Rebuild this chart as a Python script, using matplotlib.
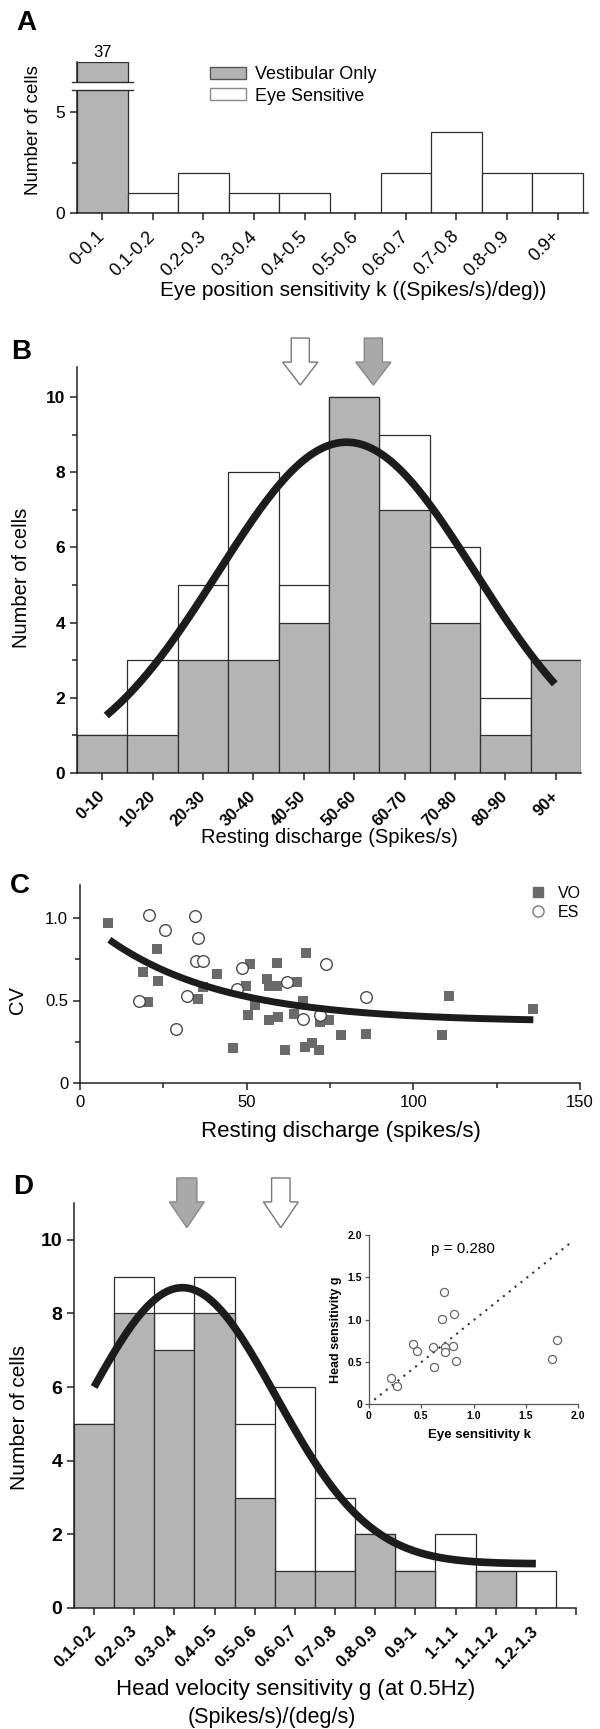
# ======================================
# VESTIBULAR NUCLEI NEURONS - 4 PANEL FIGURE
# ======================================

import numpy as np
import matplotlib

matplotlib.use("Agg")

import matplotlib.pyplot as plt
from matplotlib.patches import Polygon, Rectangle, Patch
from matplotlib.lines import Line2D

plt.rcParams['font.family'] = ['Liberation Sans', 'DejaVu Sans']


# ======================================
# DATA
# ======================================

# A - eye position sensitivity histogram
k_bins = ["0-0.1", "0.1-0.2", "0.2-0.3", "0.3-0.4", "0.4-0.5",
          "0.5-0.6", "0.6-0.7", "0.7-0.8", "0.8-0.9", "0.9+"]
k_vo = [37, 0, 0, 0, 0, 0, 0, 0, 0, 0]
k_es = [0, 1, 2, 1, 1, 0, 2, 4, 2, 2]

# B - resting discharge histogram (gray = VO, outline = VO + ES)
rd_bins = ["0-10", "10-20", "20-30", "30-40", "40-50",
           "50-60", "60-70", "70-80", "80-90", "90+"]
rd_vo = [1, 1, 3, 3, 4, 10, 7, 4, 1, 3]
rd_all = [1, 3, 5, 8, 5, 10, 9, 6, 2, 3]
# gaussian fit (bin index units)
rd_fit_amp, rd_fit_mu, rd_fit_sd = 8.8, 4.85, 2.55
rd_fit_range = (0.08, 8.98)
# mean arrows (bin index units): ES, VO
rd_mean_es, rd_mean_vo = 3.93, 5.38

# C - CV vs resting discharge
vo_rate = [8.3, 23.0, 19.0, 23.3, 20.3, 35.5, 37.0, 41.2, 51.0, 49.8,
           50.3, 52.5, 56.0, 56.7, 59.0, 59.2, 56.8, 59.5, 46.0, 61.5,
           67.8, 65.2, 67.0, 64.2, 72.0, 74.8, 67.5, 69.5, 71.8, 78.3,
           85.7, 108.5, 110.8, 136.0]
vo_cv = [0.97, 0.81, 0.67, 0.62, 0.49, 0.51, 0.58, 0.66, 0.72, 0.59,
         0.41, 0.47, 0.63, 0.59, 0.73, 0.59, 0.38, 0.40, 0.21, 0.20,
         0.79, 0.61, 0.50, 0.42, 0.37, 0.38, 0.22, 0.24, 0.20, 0.29,
         0.30, 0.29, 0.53, 0.45]
es_rate = [20.8, 34.5, 25.5, 35.5, 34.8, 37.0, 48.5, 47.0, 32.2, 17.8,
           28.8, 62.0, 73.7, 85.7, 67.0, 72.0]
es_cv = [1.02, 1.01, 0.93, 0.88, 0.74, 0.74, 0.70, 0.57, 0.53, 0.50,
         0.33, 0.61, 0.72, 0.52, 0.39, 0.41]
# exponential decay fit
cv_fit_base, cv_fit_amp, cv_fit_tau = 0.37, 0.64, 35.0
cv_fit_range = (8.8, 136.0)

# D - head velocity sensitivity histogram
g_bins = ["0.1-0.2", "0.2-0.3", "0.3-0.4", "0.4-0.5", "0.5-0.6", "0.6-0.7",
          "0.7-0.8", "0.8-0.9", "0.9-1", "1-1.1", "1.1-1.2", "1.2-1.3"]
g_vo = [5, 8, 7, 8, 3, 1, 1, 2, 1, 0, 1, 0]
g_all = [5, 9, 8, 9, 5, 6, 3, 2, 1, 2, 1, 1]
g_fit_base, g_fit_amp, g_fit_mu, g_fit_sd = 1.2, 7.5, 2.2, 2.33
g_fit_range = (0.0, 11.0)
g_mean_vo, g_mean_es = 2.31, 4.65

# D inset - head vs eye sensitivity of ES cells
ins_k = [0.72, 0.70, 0.81, 0.42, 0.46, 0.61, 0.73, 0.80, 0.73, 0.83,
         0.62, 0.21, 0.27, 1.75, 1.80]
ins_g = [1.33, 1.01, 1.06, 0.71, 0.63, 0.68, 0.68, 0.69, 0.61, 0.51,
         0.44, 0.31, 0.21, 0.53, 0.76]
ins_line_k = [0.05, 1.92]
ins_line_g = [0.05, 1.90]
ins_p = "p = 0.280"


# ======================================
# STYLE
# ======================================

W, H = 600, 1729
GRAY = "#b4b4b4"
EDGE = "#2e2e2e"
CURVE = "#1c1c1c"


def fx(px):
    return px / W


def fy(py):
    return 1 - py / H


def add_axes(left, right, top, bottom):
    return fig.add_axes([fx(left), fy(bottom), (right - left) / W, (bottom - top) / H])


def clean(ax):
    ax.spines['top'].set_visible(False)
    ax.spines['right'].set_visible(False)
    for s in ('left', 'bottom'):
        ax.spines[s].set_linewidth(1.1)
        ax.spines[s].set_color("#222222")
    ax.tick_params(direction='out', length=5, width=1.1, color="#222222")
    ax.tick_params(which='minor', direction='out', length=3.5, width=1.1, color="#222222")


def down_arrow(ax, x, y_top, y_head, y_tip, w_shaft, w_head, fc, ec):
    pts = [(x - w_shaft / 2, y_top), (x + w_shaft / 2, y_top),
           (x + w_shaft / 2, y_head), (x + w_head / 2, y_head),
           (x, y_tip), (x - w_head / 2, y_head), (x - w_shaft / 2, y_head)]
    ax.add_patch(Polygon(pts, closed=True, facecolor=fc, edgecolor=ec,
                         linewidth=1.0, clip_on=False, zorder=6))


fig = plt.figure(figsize=(W / 100, H / 100), dpi=100)


# ======================================
# PANEL A
# ======================================

axA = add_axes(77, 588, 62, 213)
clean(axA)
break_top, gap_lo, gap_hi = 7.5, 6.12, 6.5
xa = np.arange(len(k_bins))
axA.bar(xa, np.minimum(k_vo, break_top), width=1.0, color=GRAY, edgecolor=EDGE, linewidth=0.9)
axA.bar(xa, k_es, width=1.0, color="white", edgecolor=EDGE, linewidth=0.9)
# break in the 37 bar
axA.add_patch(Rectangle((-0.7, gap_lo), 1.4, gap_hi - gap_lo, facecolor="white",
                        edgecolor="none", clip_on=False, zorder=5))
for yb in (gap_lo, gap_hi):
    axA.plot([-0.6, 0.6], [yb, yb], color=EDGE, lw=1.0, clip_on=False, zorder=6)
axA.text(0, break_top + 0.1, str(k_vo[0]), ha="center", va="bottom", fontsize=12)
axA.set_xlim(-0.5, 9.6)
axA.set_ylim(0, break_top)
axA.set_yticks([0, 5])
axA.set_yticks([2.5], minor=True)
axA.set_xticks(xa)
axA.set_xticklabels(k_bins, rotation=45, ha="right", va="center",
                    rotation_mode="anchor", fontsize=13)
axA.tick_params(axis='x', pad=10)
axA.tick_params(axis='y', labelsize=12.5)
axA.set_ylabel("Number of cells", fontsize=13.5)
axA.yaxis.set_label_coords(-0.068, 0.55)
axA.set_xlabel("Eye position sensitivity k ((Spikes/s)/deg))", fontsize=15)
axA.xaxis.set_label_coords(0.54, -0.45)
axA.legend(handles=[Patch(facecolor=GRAY, edgecolor="#555555", label="Vestibular Only"),
                    Patch(facecolor="white", edgecolor="#888888", label="Eye Sensitive")],
           loc="upper left", bbox_to_anchor=(fx(210), fy(66)), bbox_transform=fig.transFigure,
           frameon=False, fontsize=13, handlelength=2.0, handleheight=0.67,
           handletextpad=0.5, labelspacing=0.25, borderpad=0, borderaxespad=0)


# ======================================
# PANEL B
# ======================================

axB = add_axes(77, 581, 367, 773)
clean(axB)
xb = np.arange(len(rd_bins))
axB.bar(xb, rd_all, width=1.0, color="white", edgecolor=EDGE, linewidth=0.9)
axB.bar(xb, rd_vo, width=1.0, color=GRAY, edgecolor=EDGE, linewidth=0.9)
xs = np.linspace(rd_fit_range[0], rd_fit_range[1], 200)
axB.plot(xs, rd_fit_amp * np.exp(-(xs - rd_fit_mu) ** 2 / (2 * rd_fit_sd ** 2)),
         color=CURVE, lw=5.5, solid_capstyle="butt", zorder=4)
down_arrow(axB, rd_mean_es, 11.57, 10.93, 10.32, 0.36, 0.70, "white", "#777777")
down_arrow(axB, rd_mean_vo, 11.57, 10.93, 10.32, 0.36, 0.70, "#a9a9a9", "#888888")
axB.set_xlim(-0.5, 9.5)
axB.set_ylim(0, 10.8)
axB.set_yticks(np.arange(0, 11, 2))
axB.set_yticks(np.arange(1, 11, 2), minor=True)
axB.set_xticks(xb)
axB.set_xticklabels(rd_bins, rotation=45, ha="right", va="center",
                    rotation_mode="anchor", fontsize=12, fontweight="bold")
axB.tick_params(axis='x', pad=10)
for lab in axB.get_yticklabels():
    lab.set_fontweight("bold")
    lab.set_fontsize(12.5)
axB.set_ylabel("Number of cells", fontsize=14.5)
axB.yaxis.set_label_coords(-0.091, 0.48)
axB.set_xlabel("Resting discharge (Spikes/s)", fontsize=14.5)
axB.xaxis.set_label_coords(0.5, -0.135)


# ======================================
# PANEL C
# ======================================

axC = add_axes(80, 580, 885, 1083)
clean(axC)
axC.scatter(vo_rate, vo_cv, marker="s", s=45, color="#6a6a6a", linewidths=0, zorder=3, label="VO")
axC.scatter(es_rate, es_cv, marker="o", s=70, facecolor="white", edgecolor="#4a4a4a",
            linewidths=1.0, zorder=3, label="ES")
xc = np.linspace(cv_fit_range[0], cv_fit_range[1], 200)
axC.plot(xc, cv_fit_base + cv_fit_amp * np.exp(-xc / cv_fit_tau), color=CURVE, lw=5.0,
         solid_capstyle="butt", zorder=4)
axC.set_xlim(0, 150)
axC.set_ylim(0, 1.2)
axC.set_xticks([0, 50, 100, 150])
axC.set_xticks([25, 75, 125], minor=True)
axC.set_yticks([0, 0.5, 1.0])
axC.set_yticklabels(["0", "0.5", "1.0"])
axC.set_yticks([0.25, 0.75], minor=True)
axC.tick_params(labelsize=12)
axC.set_ylabel("CV", fontsize=14.5)
axC.yaxis.set_label_coords(-0.106, 0.42)
axC.set_xlabel("Resting discharge (spikes/s)", fontsize=16)
axC.xaxis.set_label_coords(0.522, -0.19)
axC.legend(handles=[Line2D([], [], marker="s", ls="none", color="#6a6a6a", markersize=7, label="VO"),
                    Line2D([], [], marker="o", ls="none", markerfacecolor="white",
                           markeredgecolor="#777777", markersize=8, label="ES")],
           loc="upper left", bbox_to_anchor=(fx(530), fy(886)), bbox_transform=fig.transFigure,
           frameon=False, fontsize=11.5, handlelength=1.0, handletextpad=0.75,
           labelspacing=0.25, borderpad=0, borderaxespad=0)


# ======================================
# PANEL D
# ======================================

axD = add_axes(74, 576, 1203, 1608)
clean(axD)
xd = np.arange(len(g_bins))
axD.bar(xd, g_all, width=1.0, color="white", edgecolor=EDGE, linewidth=0.9)
axD.bar(xd, g_vo, width=1.0, color=GRAY, edgecolor=EDGE, linewidth=0.9)
xg = np.linspace(g_fit_range[0], g_fit_range[1], 200)
axD.plot(xg, g_fit_base + g_fit_amp * np.exp(-(xg - g_fit_mu) ** 2 / (2 * g_fit_sd ** 2)),
         color=CURVE, lw=5.5, solid_capstyle="butt", zorder=4)
down_arrow(axD, g_mean_vo, 11.68, 11.03, 10.33, 0.5, 0.87, "#a9a9a9", "#888888")
down_arrow(axD, g_mean_es, 11.68, 11.03, 10.33, 0.46, 0.87, "white", "#777777")
axD.set_xlim(-0.5, 12.0)
axD.set_ylim(0, 11)
axD.set_yticks(np.arange(0, 11, 2))
axD.set_xticks(np.arange(len(g_bins) + 1))
axD.set_xticklabels(g_bins + [""], rotation=45, ha="right", va="center",
                    rotation_mode="anchor", fontsize=12, fontweight="bold")
axD.tick_params(axis='x', pad=10)
for lab in axD.get_yticklabels():
    lab.set_fontweight("bold")
    lab.set_fontsize(14)
axD.set_ylabel("Number of cells", fontsize=15)
axD.yaxis.set_label_coords(-0.09, 0.47)
axD.set_xlabel("Head velocity sensitivity g (at 0.5Hz)", fontsize=16)
axD.xaxis.set_label_coords(0.442, -0.175)
axD.text(fx(272), fy(1717), "(Spikes/s)/(deg/s)", transform=fig.transFigure,
         ha="center", va="center", fontsize=15.5)

# inset
axI = add_axes(369, 578, 1235, 1404)
for s in ('top', 'right'):
    axI.spines[s].set_visible(False)
for s in ('left', 'bottom'):
    axI.spines[s].set_linewidth(0.9)
    axI.spines[s].set_color("#555555")
axI.tick_params(direction='out', length=3, width=0.9, color="#555555", labelsize=7.5, pad=2)
axI.scatter(ins_k, ins_g, s=34, facecolor="white", edgecolor="#666666", linewidths=0.9, zorder=3)
axI.plot(ins_line_k, ins_line_g, color="#333333", lw=1.5, ls=(0, (1, 2.6)))
axI.text(0.9, 1.83, ins_p, ha="center", va="center", fontsize=11)
axI.set_xlim(0, 2)
axI.set_ylim(0, 2)
ticks = [0, 0.5, 1.0, 1.5, 2.0]
tick_txt = ["0", "0.5", "1.0", "1.5", "2.0"]
axI.set_xticks(ticks)
axI.set_xticklabels(tick_txt, fontweight="bold")
axI.set_yticks(ticks)
axI.set_yticklabels(tick_txt, fontweight="bold")
axI.set_xlabel("Eye sensitivity k", fontsize=9.5, fontweight="bold")
axI.xaxis.set_label_coords(0.53, -0.148)
axI.set_ylabel("Head sensitivity g", fontsize=9, fontweight="bold")
axI.yaxis.set_label_coords(-0.13, 0.44)


# ======================================
# PANEL LETTERS
# ======================================

for letter, (px, py) in {"A": (26, 23), "B": (21, 352), "C": (20, 886), "D": (23, 1187)}.items():
    fig.text(fx(px), fy(py), letter, fontsize=20, fontweight="bold", ha="center", va="center")

fig.savefig("out.png", dpi=100)
